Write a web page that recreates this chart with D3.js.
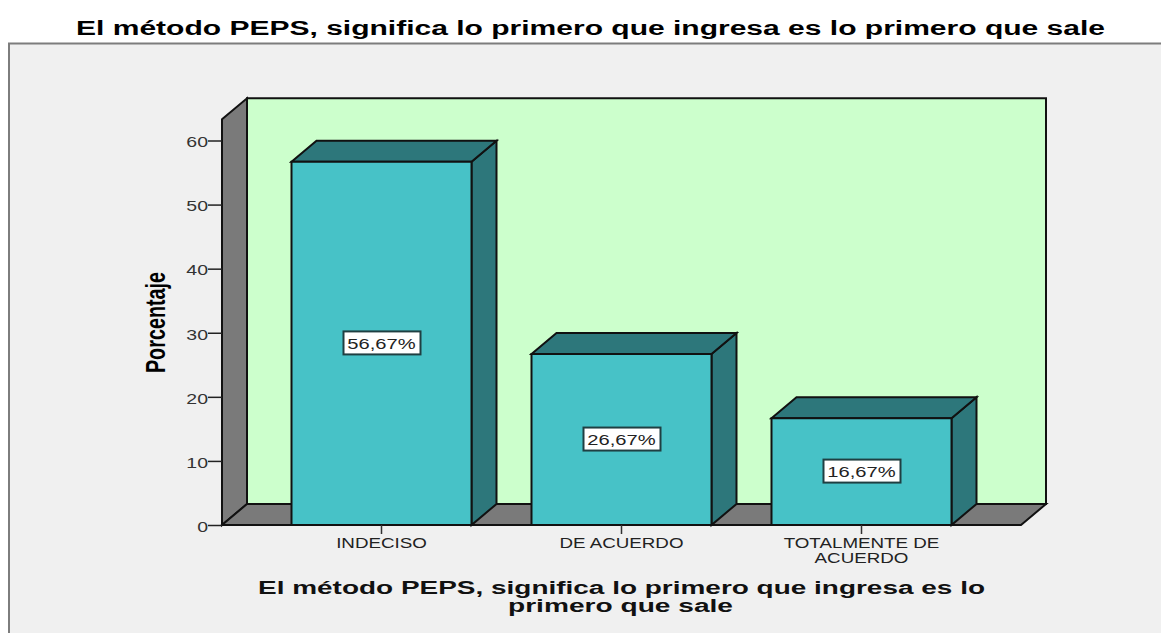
<!DOCTYPE html>
<html><head><meta charset="utf-8">
<script src="https://cdn.jsdelivr.net/npm/d3@7/dist/d3.min.js"></script>
<style>html,body{margin:0;padding:0;background:#fff}svg{display:block}text{font-family:"Liberation Sans",Arial,sans-serif}</style>
</head><body><svg id="c" width="1161" height="633"></svg>
<script>
const categories = ["INDECISO", "DE ACUERDO", "TOTALMENTE DE ACUERDO"];
const categoryLines = [["INDECISO"], ["DE ACUERDO"], ["TOTALMENTE DE", "ACUERDO"]];
const values = [56.67, 26.67, 16.67];
const valueLabels = ["56,67%", "26,67%", "16,67%"];
const yTicks = [0, 10, 20, 30, 40, 50, 60];
const yMax = 63.3;
const titleText = "El método PEPS, significa lo primero que ingresa es lo primero que sale";
const xTitleLines = ["El método PEPS, significa lo primero que ingresa es lo", "primero que sale"];
const yTitle = "Porcentaje";

const svg = d3.select("#c");
const depthX = 25, depthY = 21;
const plot = {left: 222, right: 1021, bottom: 525};
const y = d3.scaleLinear().domain([0, 60]).range([plot.bottom, 140.5]);
const x = d3.scaleBand().domain(categories).range([plot.left, plot.right]).paddingInner(0.25).paddingOuter(0.2896);
const yTop = y(yMax);
const dark = "#111";
// widen real text horizontally, like the stretched reference
const stretch = (sel, f) => sel.each(function () {
  this.setAttribute("textLength", this.getComputedTextLength() * f);
  this.setAttribute("lengthAdjust", "spacingAndGlyphs");
});

// panel
svg.append("rect").attr("x", 9).attr("y", 44).attr("width", 1152).attr("height", 589).attr("fill", "#f0f0f0");
svg.append("path").attr("d", "M9,633V43.5H1161").attr("fill", "none").attr("stroke", "#7d7d7d").attr("stroke-width", 2);

svg.append("text").attr("x", 590.5).attr("y", 34.5).attr("text-anchor", "middle").attr("font-weight", "bold")
  .attr("font-size", 20).attr("textLength", 1029).attr("lengthAdjust", "spacingAndGlyphs").attr("fill", "#000").text(titleText);

const poly = pts => "M" + pts.map(p => p.join(",")).join("L") + "Z";
function face(pts, fill) {
  return svg.append("path").attr("d", poly(pts)).attr("fill", fill)
    .attr("stroke", dark).attr("stroke-width", 2).attr("stroke-linejoin", "miter");
}
// back wall, side wall, floor
face([[plot.left + depthX, yTop - depthY], [plot.right + depthX, yTop - depthY], [plot.right + depthX, plot.bottom - depthY], [plot.left + depthX, plot.bottom - depthY]], "#ccffcc");
face([[plot.left, yTop], [plot.left + depthX, yTop - depthY], [plot.left + depthX, plot.bottom - depthY], [plot.left, plot.bottom]], "#7a7a7a");
face([[plot.left, plot.bottom], [plot.left + depthX, plot.bottom - depthY], [plot.right + depthX, plot.bottom - depthY], [plot.right, plot.bottom]], "#7a7a7a");

// bars
categories.forEach((c, i) => {
  const x0 = x(c), x1 = x0 + x.bandwidth(), t = y(values[i]), b = y(0);
  face([[x1, t], [x1 + depthX, t - depthY], [x1 + depthX, b - depthY], [x1, b]], "#2d777b");
  face([[x0, t], [x0 + depthX, t - depthY], [x1 + depthX, t - depthY], [x1, t]], "#2d777b");
  face([[x0, t], [x1, t], [x1, b], [x0, b]], "#47c2c7");
  const cx = (x0 + x1) / 2, cy = y(values[i] / 2);
  svg.append("rect").attr("x", cx - 38).attr("y", cy - 12).attr("width", 77).attr("height", 23)
    .attr("fill", "#fff").attr("stroke", "#1f3f42").attr("stroke-width", 2);
  svg.append("text").attr("x", cx).attr("y", cy + 5.5).attr("text-anchor", "middle").attr("font-size", 15.5)
    .attr("fill", "#222").text(valueLabels[i]).call(stretch, 1.3);
});

// y axis
const gy = svg.append("g").attr("transform", `translate(${plot.left},0)`)
  .call(d3.axisLeft(y).tickValues(yTicks).tickSize(14).tickPadding(0));
gy.select(".domain").remove();
gy.selectAll("line").attr("stroke", "#222").attr("stroke-width", 1.5);
gy.selectAll("text").attr("font-size", 15).attr("fill", "#333").attr("font-family", "Liberation Sans").attr("dy", "0.42em").call(stretch, 1.3);

// x axis
const gx = svg.append("g").attr("transform", `translate(0,${plot.bottom})`)
  .call(d3.axisBottom(x).tickSize(9));
gx.select(".domain").remove();
gx.selectAll("line").attr("stroke", "#333").attr("stroke-width", 1.5);
gx.selectAll("text").remove();
categories.forEach((c, i) => {
  categoryLines[i].forEach((ln, j) => {
    svg.append("text").attr("x", x(c) + x.bandwidth() / 2).attr("y", plot.bottom + 23 + j * 14.5)
      .attr("text-anchor", "middle").attr("font-size", 14).attr("fill", "#222").text(ln).call(stretch, 1.34);
  });
});

// axis titles
svg.append("text").attr("transform", "translate(165,322.5) rotate(-90) scale(1.125,1.5)").attr("text-anchor", "middle")
  .attr("font-weight", "bold").attr("font-size", 18).attr("fill", "#000").text(yTitle)
  .attr("textLength", 90).attr("lengthAdjust", "spacingAndGlyphs");
const xLens = [727, 225];
xTitleLines.forEach((ln, i) => {
  svg.append("text").attr("x", i ? 620.5 : 621.5).attr("y", 594 + i * 18).attr("text-anchor", "middle").attr("font-weight", "bold")
    .attr("font-size", 18).attr("textLength", xLens[i]).attr("lengthAdjust", "spacingAndGlyphs").attr("fill", "#111").text(ln);
});
</script></body></html>
